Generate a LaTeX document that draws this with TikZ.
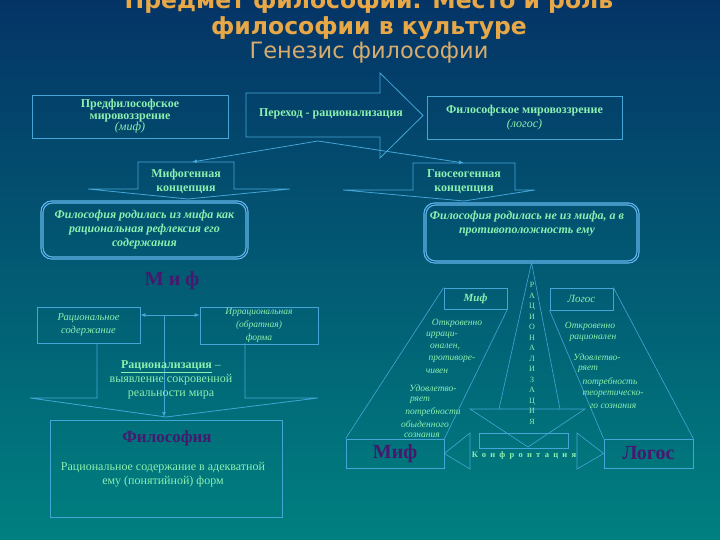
\documentclass[tikz,border=0pt]{standalone}
\usepackage{fontspec}
\setmainfont{Liberation Serif}
\newfontfamily\titlefont{DejaVu Sans}
\newfontfamily\spacedfont[LetterSpace=50]{Liberation Serif}
\usetikzlibrary{arrows.meta}
\definecolor{bgtop}{RGB}{4,52,102}
\definecolor{bgbot}{RGB}{0,128,128}
\definecolor{lnc}{RGB}{70,165,215}
\definecolor{rbl}{RGB}{95,185,235}
\definecolor{rbd}{RGB}{20,80,130}
\definecolor{tg}{RGB}{140,240,175}
\definecolor{pur}{RGB}{70,25,110}
\definecolor{ttl}{RGB}{232,168,72}
\definecolor{sub}{RGB}{215,172,110}
\begin{document}
\begin{tikzpicture}[x=1pt,y=-1pt,
  ln/.style={draw=lnc, line width=0.8pt},
  thinln/.style={draw=lnc, line width=0.6pt},
  conn/.style={draw=lnc, line width=0.8pt, -{Latex[length=5pt,width=4pt]}},
  dconn/.style={draw=lnc, line width=0.8pt, {Latex[length=5pt,width=4pt]}-{Latex[length=5pt,width=4pt]}},
  bt/.style={text=tg, font=\bfseries\fontsize{12}{11.5}\selectfont, align=center, inner sep=0pt},
  ibt/.style={text=tg, font=\bfseries\itshape\fontsize{12}{14}\selectfont, align=center, inner sep=0pt},
  itx/.style={text=tg, font=\itshape\fontsize{9.5}{12}\selectfont, align=center, inner sep=0pt},
  rgt/.style={text=tg, font=\fontsize{12}{14}\selectfont, align=center, inner sep=0pt},
  rbox/.style={draw=rbl, double=rbd, double distance=0.9pt, line width=1.2pt, rounded corners=10pt},
  big/.style={text=pur, font=\bfseries\fontsize{20}{22}\selectfont, inner sep=0pt},
  ttlf/.style={text=ttl, font=\titlefont\bfseries\fontsize{23.5}{26}\selectfont, inner sep=0pt}
]
\useasboundingbox (0,0) rectangle (720,540);
\shade[top color=bgtop, bottom color=bgbot] (0,0) rectangle (720,540);

% title
\node[ttlf] (t1) at (369,2) {Предмет философии. Место и роль};
\node[ttlf] (t2) at (369,28) {философии в культуре};
\node[text=sub, font=\titlefont\fontsize{22.5}{24}\selectfont, inner sep=0pt] (t3) at (369,52.5) {Генезис философии};

% top row
\node[ln, minimum width=196pt, minimum height=43pt, bt] (pre) at (130,116.5) {Предфилософское\\мировоззрение\\\textit{\mdseries(миф)}};
\draw[ln] (246,93) -- (380,93) -- (380,73) -- (423,115.5) -- (380,158) -- (380,137) -- (246,137) -- cycle;
\node[bt] (tr) at (331,114) {Переход - рационализация};
\node[ln, minimum width=195pt, minimum height=43pt, bt, font=\bfseries\fontsize{12}{14}\selectfont] (phi) at (524.5,117.5) {Философское мировоззрение\\\textit{\mdseries(логос)}};

% concept callouts
\draw[ln] (138,189) -- (138,162) -- (234,162) -- (234,189) -- (290,189) -- (188,199) -- (88,189) -- cycle;
\node[bt, font=\bfseries\fontsize{12}{14}\selectfont] (myth) at (186,181) {Мифогенная\\концепция};
\draw[ln] (413,190) -- (413,163) -- (515,163) -- (515,190) -- (535,190) -- (464,201) -- (343,190) -- cycle;
\node[bt, font=\bfseries\fontsize{12}{14}\selectfont] (gno) at (464,182) {Гносеогенная\\концепция};
\coordinate (apex) at (318,141);
\coordinate (mythtop) at (192,162);
\coordinate (gnotop) at (464,163);
\draw[conn] (apex) -- (mythtop);
\draw[conn] (apex) -- (gnotop);

% rounded boxes
\node[rbox, minimum width=205pt, minimum height=56pt, ibt] (rl) at (144.5,230) {Философия родилась из мифа как\\рациональная рефлексия его\\содержания};
\node[rbox, minimum width=213pt, minimum height=58pt] (rr) at (531.5,233) {};
\node[ibt] (rrt) at (527,224) {Философия родилась не из мифа, а в\\противоположность ему};

% left lower part
\node[big] (mif) at (172,281) {М и ф};
\node[ln, minimum width=103pt, minimum height=36pt, itx, font=\itshape\fontsize{10.5}{13}\selectfont] (rat) at (88.5,325) {Рациональное\\содержание};
\node[ln, minimum width=118pt, minimum height=37pt, itx, font=\itshape\fontsize{9.5}{13}\selectfont] (irr) at (259,325.5) {Иррациональная\\(обратная)\\форма};
\coordinate (mid) at (164,315);
\draw[dconn] (rat.east |- mid) -- (irr.west |- mid);
\coordinate (ratip) at (164,417);
\draw[conn] (mid) -- (ratip);
\draw[ln] (97,343) -- (97,398) -- (30,398) -- (166,417) -- (318,398) -- (245,398) -- (245,343);
\node[rgt] (ratz) at (171,380) {\underline{\textbf{Рационализация}} –\\выявление сокровенной\\реальности мира};
\node[ln, minimum width=232pt, minimum height=97pt] (phil) at (166,468.5) {};
\node[text=pur, font=\bfseries\fontsize{17}{20}\selectfont, inner sep=0pt] (philt) at (167,438) {Философия};
\node[rgt] (philx) at (163,475) {Рациональное содержание в адекватной\\ему (понятийной) форм};

% right lower part
\coordinate (sp1) at (499,409);
\coordinate (sp2) at (560,409);
\draw[thinln] (sp1) -- (rr.south) -- (sp2);
\coordinate (hl) at (470,409);
\coordinate (hr) at (585,409);
\coordinate (htip) at (528,447);
\draw[thinln] (hl) -- (hr) -- (htip) -- cycle;
\draw[thinln] (479,433) rectangle (568,448);
\node[text=tg, font=\fontsize{8}{10.5}\selectfont, align=center, inner sep=0pt] (rz) at (532,353.5) {Р\\А\\Ц\\И\\О\\Н\\А\\Л\\И\\З\\А\\Ц\\И\\Я};

\node[ln, minimum width=63pt, minimum height=21pt, inner sep=0pt, text=tg, font=\bfseries\itshape\fontsize{11}{12}\selectfont] (mifs) at (475.5,298.5) {Миф};
\node[ln, minimum width=63pt, minimum height=22pt, inner sep=0pt, text=tg, font=\itshape\fontsize{11}{12}\selectfont] (logs) at (581.5,299) {Логос};
\node[ln, minimum width=98pt, minimum height=29pt, inner sep=0pt, big] (mifb) at (395,453.5) {Миф};
\node[ln, minimum width=89pt, minimum height=29pt, inner sep=0pt, big] (logb) at (648.5,453.5) {Логос\hspace{12pt}};
\draw[thinln] (mifs.north west) -- (mifb.north west);
\draw[thinln] (mifs.south east) -- (mifb.north east);
\draw[thinln] (logs.north east) -- (logb.north east);
\draw[thinln] (logs.south west) -- (logb.north west);

\draw[thinln] (mifb.east) -- (470,433) -- (470,469) -- cycle;
\draw[thinln] (logb.west) -- (577,433) -- (577,469) -- cycle;
\node[text=tg, font=\spacedfont\bfseries\fontsize{8.5}{10}\selectfont, inner sep=0pt] (konf) at (524,455) {Конфронтация};

% column texts
\node[itx] (m1) at (457,323) {Откровенно};
\node[itx] (m2) at (442,335) {ирраци-};
\node[itx] (m3) at (445,347) {онален,};
\node[itx] (m4) at (452,359) {противоре-};
\node[itx] (m5) at (437,371) {чивен};
\node[itx] (m6) at (433,388) {Удовлетво-};
\node[itx] (m7) at (420,400) {ряет};
\node[itx] (m8) at (433,412) {потребности};
\node[itx] (m9) at (425,424) {обыденного};
\node[itx] (m10) at (422,435) {сознания};
\node[itx] (l1) at (590,326) {Откровенно};
\node[itx] (l2) at (593,338) {рационален};
\node[itx] (l3) at (597,357) {Удовлетво-};
\node[itx] (l4) at (588,369) {ряет};
\node[itx] (l5) at (610,382) {потребность};
\node[itx] (l6) at (613,394) {теоретическо-};
\node[itx] (l7) at (613,406) {го сознания};
\end{tikzpicture}
\end{document}
